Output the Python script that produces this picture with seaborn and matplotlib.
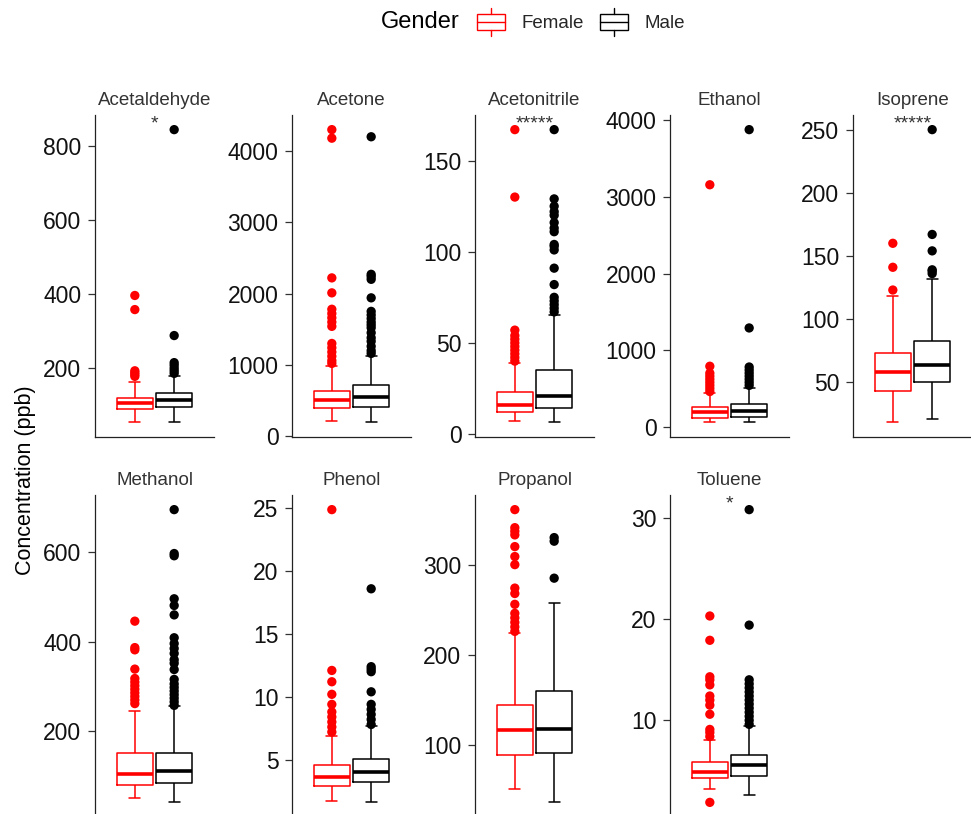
import numpy as np
import pandas as pd
import matplotlib
matplotlib.use("Agg")
import matplotlib.pyplot as plt
import seaborn as sns
from matplotlib.legend_handler import HandlerBase
from matplotlib.patches import Rectangle, Patch
from matplotlib.lines import Line2D

# ---------------- data ----------------
compounds = ["Acetaldehyde", "Acetone", "Acetonitrile", "Ethanol", "Isoprene",
             "Methanol", "Phenol", "Propanol", "Toluene"]
genders = ["Female", "Male"]

# lower whisker, Q1, median, Q3, upper whisker
female_box = [
    [54, 90, 107, 121, 164],
    [212, 391, 508, 640, 985],
    [7.2, 12.3, 16, 23.3, 39],
    [57, 118, 188, 262, 437],
    [18.2, 43.4, 58.2, 73.5, 118.5],
    [51, 81, 105.5, 151.5, 246],
    [1.72, 2.93, 3.64, 4.6, 6.85],
    [51, 89.3, 116.3, 144.7, 224],
    [3.22, 4.27, 4.93, 5.92, 8.1],
]
male_box = [
    [54, 96, 114, 132, 178],
    [193, 414, 555, 711, 1130],
    [6.4, 14.1, 21.1, 35.3, 65.5],
    [57, 131, 205, 297, 503],
    [21, 50, 63.8, 83, 132],
    [41.5, 84.6, 110.6, 151.5, 256],
    [1.6, 3.25, 4.05, 5.07, 7.7],
    [36.4, 91, 117.7, 160.3, 257.5],
    [2.59, 4.47, 5.55, 6.61, 9.4],
]
female_out = [
    [178, 183, 188, 193, 358, 396],
    [1020, 1060, 1120, 1180, 1240, 1300, 1540, 1600, 1660, 1720, 1780, 2010, 2220, 4180, 4300],
    [40, 42, 44, 46, 48, 50, 52, 54, 57, 130, 167],
    [460, 500, 540, 580, 620, 660, 700, 790, 3160],
    [123, 141, 160],
    [262, 270, 278, 286, 294, 302, 310, 318, 339, 382, 387, 446],
    [7.2, 7.6, 8.0, 8.4, 8.8, 9.4, 10.2, 11.2, 12.1, 24.9],
    [226, 231, 236, 241, 246, 256, 268, 274, 300, 309, 320, 333, 337, 341, 361],
    [1.9, 8.4, 8.8, 9.1, 10.6, 11.5, 12.0, 12.4, 13.5, 14.0, 14.3, 17.9, 20.3],
]
male_out = [
    [186, 193, 200, 208, 215, 288, 843],
    [1160, 1200, 1260, 1330, 1380, 1450, 1520, 1560, 1600, 1650, 1700, 1750, 1940, 2200, 2240, 2270, 4200],
    [67, 69, 71, 73, 75, 82, 91, 101, 103, 104, 111, 113, 116, 120, 122, 125, 129, 167],
    [540, 580, 620, 660, 700, 740, 780, 1290, 3880],
    [136, 138, 139, 154, 167, 250],
    [258, 266, 274, 282, 290, 298, 306, 316, 338, 352, 360, 374, 385, 396, 409, 460, 481, 496, 592, 597, 695],
    [7.8, 8.2, 8.6, 9.0, 9.4, 10.4, 12.0, 12.2, 12.4, 18.6],
    [285, 326, 330],
    [9.6, 10.0, 10.4, 10.8, 11.2, 11.6, 12.0, 12.4, 12.8, 13.2, 13.6, 14.0, 19.4, 30.8],
]
stars = ["*", "", "*****", "", "*****", "", "", "", "*"]
yticks = [
    [200, 400, 600, 800],
    [0, 1000, 2000, 3000, 4000],
    [0, 50, 100, 150],
    [0, 1000, 2000, 3000, 4000],
    [50, 100, 150, 200, 250],
    [200, 400, 600],
    [5, 10, 15, 20, 25],
    [100, 200, 300],
    [10, 20, 30],
]

# ---------------- tidy tables ----------------
box_rows, out_rows = [], []
for c, fb, mb, fo, mo in zip(compounds, female_box, male_box, female_out, male_out):
    for v in fb:
        box_rows.append((c, "Female", v))
    for v in mb:
        box_rows.append((c, "Male", v))
    for v in fo:
        out_rows.append((c, "Female", v))
    for v in mo:
        out_rows.append((c, "Male", v))
df_box = pd.DataFrame(box_rows, columns=["compound", "gender", "value"])
df_out = pd.DataFrame(out_rows, columns=["compound", "gender", "value"])

# ---------------- style ----------------
sns.set_theme(style="white")
plt.rcParams["font.family"] = ["Liberation Sans", "DejaVu Sans"]
palette = {"Female": "#FF0000", "Male": "#000000"}

W, H = 971, 814
fig = plt.figure(figsize=(W / 100, H / 100), dpi=100)

# panel geometry in pixels
panel_left = [95, 292, 475, 670, 853, 95, 292, 475, 670]
panel_w = 119
row_top = [115, 115, 115, 115, 115, 495, 495, 495, 495]
panel_h = 322

for i, c in enumerate(compounds):
    l, t = panel_left[i], row_top[i]
    ax = fig.add_axes([l / W, 1 - (t + panel_h) / H, panel_w / W, panel_h / H])
    sub_b = df_box[df_box.compound == c]
    sub_o = df_out[df_out.compound == c]
    sns.boxplot(data=sub_b, x="compound", y="value", hue="gender",
                hue_order=genders, palette=palette, fill=False,
                width=0.8, gap=0.1, whis=(0, 100), showfliers=False,
                linewidth=1.1, medianprops=dict(linewidth=2.6),
                capwidths=0.11, legend=False, ax=ax)
    sns.stripplot(data=sub_o, x="compound", y="value", hue="gender",
                  hue_order=genders, palette=palette, dodge=True,
                  jitter=False, size=6.7, linewidth=0, legend=False, ax=ax)
    allv = pd.concat([sub_b.value, sub_o.value])
    lo, hi = allv.min(), allv.max()
    pad = 0.05 * (hi - lo)
    ax.set_ylim(lo - pad, hi + pad)
    ax.set_xlim(-0.605, 0.605)
    ax.set_yticks(yticks[i])
    ax.set_yticklabels([str(v) for v in yticks[i]])
    ax.set_xticks([])
    ax.set_xlabel("")
    ax.set_ylabel("")
    for s in ["top", "right"]:
        ax.spines[s].set_visible(False)
    for s in ["left", "bottom"]:
        ax.spines[s].set_color("#222222")
        ax.spines[s].set_linewidth(0.9)
    ax.tick_params(axis="y", length=4.8, width=0.9, color="#333333",
                   labelsize=16.5, pad=5, labelcolor="#111111", left=True)
    ax.set_title(c, fontsize=13.5, color="#333333", pad=7)
    if stars[i]:
        ax.text(0.5, 1.0, stars[i], transform=ax.transAxes, ha="center",
                va="top", fontsize=14, color="#333333")

# y-axis label
fig.text(25 / W, 1 - 480 / H, "Concentration (ppb)", rotation=90,
         ha="center", va="center", fontsize=15.5, color="black")


# legend with box-glyph keys
class BoxHandler(HandlerBase):
    def create_artists(self, legend, orig_handle, xdescent, ydescent,
                       width, height, fontsize, trans):
        col = orig_handle.get_edgecolor()
        x0, y0 = -xdescent, -ydescent
        b0, b1 = y0 + 0.2 * height, y0 + 0.8 * height
        xm = x0 + width / 2
        arts = [
            Rectangle((x0, b0), width, b1 - b0, fill=False, edgecolor=col,
                      linewidth=1.0, transform=trans),
            Line2D([x0, x0 + width], [y0 + 0.5 * height] * 2, color=col,
                   linewidth=1.0, transform=trans),
            Line2D([xm, xm], [y0, b0], color=col, linewidth=1.0, transform=trans),
            Line2D([xm, xm], [b1, y0 + height], color=col, linewidth=1.0,
                   transform=trans),
        ]
        return arts


handles = [Patch(edgecolor=palette[g], facecolor="none") for g in genders]
fig.legend(handles, genders, handler_map={Patch: BoxHandler()},
           loc="center left", bbox_to_anchor=(477 / W, 1 - 22 / H),
           ncol=2, frameon=False, fontsize=13.5, handlelength=1.5,
           handleheight=1.93, handletextpad=0.85, columnspacing=0.9,
           borderpad=0, borderaxespad=0)
fig.text(381 / W, 1 - 22 / H, "Gender", ha="left", va="center",
         fontsize=17, color="black")

fig.savefig("out.png", dpi=100)
